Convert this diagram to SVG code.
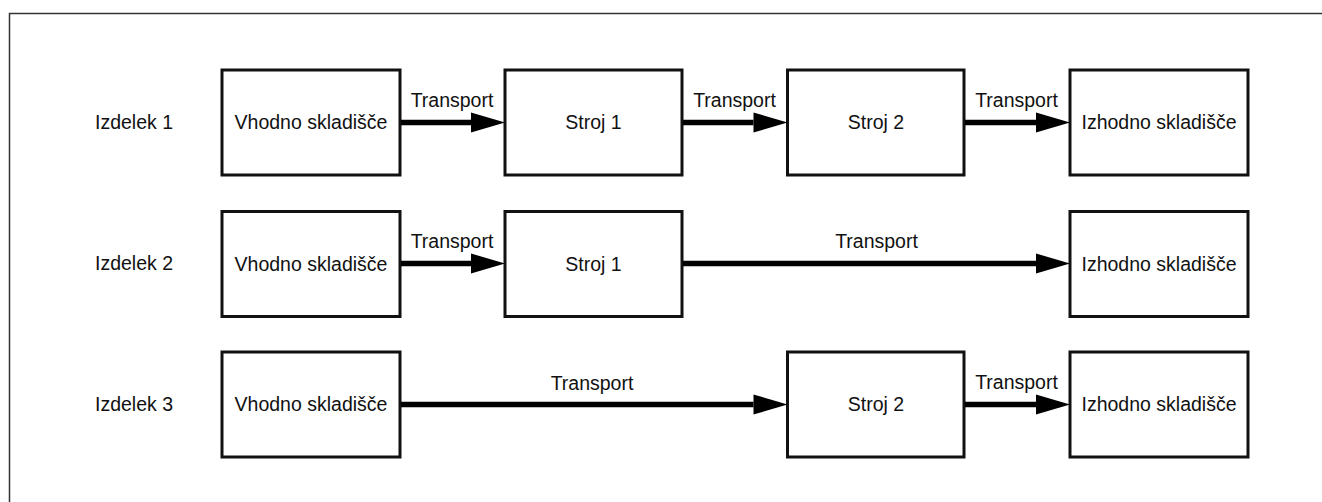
<svg xmlns="http://www.w3.org/2000/svg" width="1322" height="502" viewBox="0 0 1322 502">
  <style>
    .box { fill: #fff; stroke: #111; stroke-width: 3; }
    .t { font-family: "Liberation Sans", Arial, sans-serif; font-size: 19.5px; fill: #111; }
    .c { text-anchor: middle; }
    .edge { stroke: #000; stroke-width: 5.5; fill: none; }
  </style>
  <defs>
    <marker id="ah" viewBox="0 -10 34 20" markerUnits="userSpaceOnUse" markerWidth="34" markerHeight="20" refX="0" refY="0" orient="auto" overflow="visible">
      <path d="M0,-10 L34,0 L0,10 Z" fill="#000"/>
    </marker>
  </defs>
  <rect width="1322" height="502" fill="#fff"/>
  <path d="M9.5,502 V13.5 H1322" fill="none" stroke="#333" stroke-width="1.5"/>

  <!-- row labels -->
  <g id="lbl1"><text class="t" x="95" y="129">Izdelek 1</text></g>
  <g id="lbl2"><text class="t" x="95" y="270">Izdelek 2</text></g>
  <g id="lbl3"><text class="t" x="95" y="411">Izdelek 3</text></g>

  <!-- row 1 -->
  <g id="r1_vhod"><rect class="box" x="222" y="70" width="178" height="105"/><text class="t c" x="311" y="129">Vhodno skladišče</text></g>
  <g id="r1_s1"><rect class="box" x="505" y="70" width="177" height="105"/><text class="t c" x="593.5" y="129">Stroj 1</text></g>
  <g id="r1_s2"><rect class="box" x="787.5" y="70" width="176.5" height="105"/><text class="t c" x="876" y="129">Stroj 2</text></g>
  <g id="r1_izh"><rect class="box" x="1070" y="70" width="178" height="105"/><text class="t c" x="1159" y="129">Izhodno skladišče</text></g>

  <!-- row 2 -->
  <g id="r2_vhod"><rect class="box" x="222" y="211.5" width="178" height="105"/><text class="t c" x="311" y="270.5">Vhodno skladišče</text></g>
  <g id="r2_s1"><rect class="box" x="505" y="211.5" width="177" height="105"/><text class="t c" x="593.5" y="270.5">Stroj 1</text></g>
  <g id="r2_izh"><rect class="box" x="1070" y="211.5" width="178" height="105"/><text class="t c" x="1159" y="270.5">Izhodno skladišče</text></g>

  <!-- row 3 -->
  <g id="r3_vhod"><rect class="box" x="222" y="352" width="178" height="105"/><text class="t c" x="311" y="411">Vhodno skladišče</text></g>
  <g id="r3_s2"><rect class="box" x="787.5" y="352" width="176.5" height="105"/><text class="t c" x="876" y="411">Stroj 2</text></g>
  <g id="r3_izh"><rect class="box" x="1070" y="352" width="178" height="105"/><text class="t c" x="1159" y="411">Izhodno skladišče</text></g>

  <!-- connectors -->
  <g id="connectors">
    <line class="edge" x1="401" y1="122.5" x2="471" y2="122.5" marker-end="url(#ah)"/>
    <text class="t c" x="452" y="107">Transport</text>
    <line class="edge" x1="683" y1="122.5" x2="753.5" y2="122.5" marker-end="url(#ah)"/>
    <text class="t c" x="734.5" y="107">Transport</text>
    <line class="edge" x1="965" y1="122.5" x2="1036" y2="122.5" marker-end="url(#ah)"/>
    <text class="t c" x="1016.5" y="107">Transport</text>

    <line class="edge" x1="401" y1="263.5" x2="471" y2="263.5" marker-end="url(#ah)"/>
    <text class="t c" x="452" y="248">Transport</text>
    <line class="edge" x1="683" y1="263.5" x2="1036" y2="263.5" marker-end="url(#ah)"/>
    <text class="t c" x="876.5" y="248">Transport</text>

    <line class="edge" x1="401" y1="404.5" x2="753.5" y2="404.5" marker-end="url(#ah)"/>
    <text class="t c" x="592" y="390">Transport</text>
    <line class="edge" x1="965" y1="404.5" x2="1036" y2="404.5" marker-end="url(#ah)"/>
    <text class="t c" x="1016.5" y="389">Transport</text>
  </g>
</svg>
